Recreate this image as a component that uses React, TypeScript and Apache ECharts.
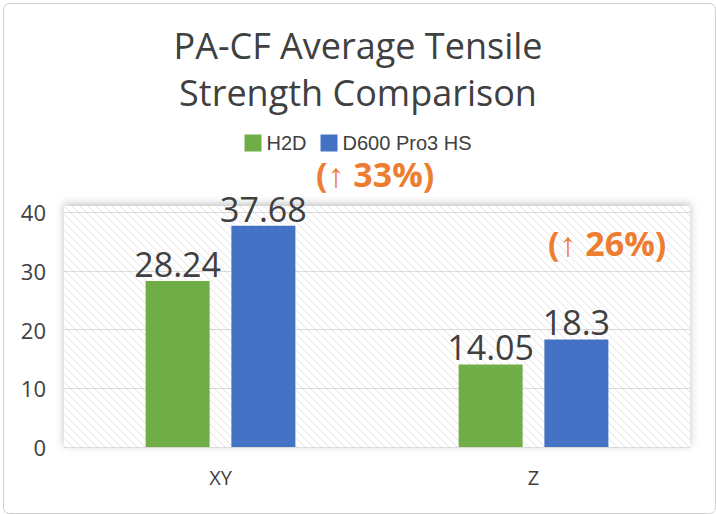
import React, { useEffect, useRef } from "react";
import * as echarts from "echarts";

const categories = ["XY", "Z"];
const h2d = [28.24, 14.05];
const d600 = [37.68, 18.3];
const yTicks = [0, 10, 20, 30, 40];
const gains = ["(↑ 33%)", "(↑ 26%)"];

function hatch() {
  const c = document.createElement("canvas");
  c.width = 8; c.height = 8;
  const g = c.getContext("2d")!;
  g.fillStyle = "#ffffff"; g.fillRect(0, 0, 8, 8);
  g.strokeStyle = "#e4e4e4"; g.lineWidth = 1;
  g.beginPath(); g.moveTo(0, 0); g.lineTo(8, 8); g.moveTo(-4, 4); g.lineTo(4, 12); g.moveTo(4, -4); g.lineTo(12, 4); g.stroke();
  return c;
}

export default function App() {
  const ref = useRef<HTMLDivElement>(null);
  useEffect(() => {
    const chart = echarts.init(ref.current!, null, { renderer: "svg" });
    const font = "'Open Sans', 'Noto Sans', sans-serif";
    const label = { show: true, position: "top", fontSize: 34, color: "#404040", fontFamily: font, distance: 0 };
    chart.setOption({
      animation: false,
      title: {
        text: "PA-CF Average Tensile\nStrength Comparison",
        left: "center", top: 17,
        textStyle: { fontSize: 36, fontWeight: "normal", color: "#404040", fontFamily: font, lineHeight: 47 },
      },
      legend: {
        top: 128, left: "center", itemWidth: 17, itemHeight: 17, itemGap: 14,
        textStyle: { fontSize: 20, color: "#404040", fontFamily: "Liberation Sans, sans-serif" },
        data: [{ name: "H2D", icon: "rect" }, { name: "D600 Pro3 HS", icon: "rect" }],
      },
      grid: { left: 64, right: 26, top: 212, bottom: 67 },
      graphic: [
        { type: "rect", left: 1, top: 1, shape: { width: 712, height: 510, r: 6 }, style: { fill: "none", stroke: "#d0d0d0", lineWidth: 1 }, z: -10 },
        { type: "rect", left: 64, top: 206, shape: { width: 626, height: 241 }, style: { fill: { image: hatch(), repeat: "repeat" } as any, shadowBlur: 8, shadowColor: "rgba(0,0,0,0.25)", shadowOffsetY: -2 }, z: -5 },
        { type: "text", left: 316, top: 157, style: { text: gains[0], fontSize: 34, fontWeight: "bold", fill: "#ED7D31", fontFamily: font } },
        { type: "text", left: 548, top: 226, style: { text: gains[1], fontSize: 34, fontWeight: "bold", fill: "#ED7D31", fontFamily: font } },
      ],
      xAxis: {
        type: "category", data: categories,
        axisLine: { lineStyle: { color: "#d9d9d9" } }, axisTick: { show: false },
        axisLabel: { fontSize: 20, color: "#404040", margin: 20, fontFamily: font },
      },
      yAxis: {
        type: "value", min: yTicks[0], max: yTicks[yTicks.length - 1], interval: 10,
        axisLine: { show: false }, axisTick: { show: false },
        axisLabel: { fontSize: 22, color: "#404040", margin: 18, fontFamily: font },
        splitLine: { lineStyle: { color: "#d9d9d9" } },
      },
      series: [
        { name: "H2D", type: "bar", data: h2d, barWidth: 64, barGap: "34%", itemStyle: { color: "#70AD47" }, label },
        { name: "D600 Pro3 HS", type: "bar", data: d600, barWidth: 64, itemStyle: { color: "#4472C4" }, label },
      ],
    });
    return () => chart.dispose();
  }, []);
  return <div ref={ref} style={{ width: 716, height: 514, position: "absolute", left: 0, top: 0 }} />;
}
